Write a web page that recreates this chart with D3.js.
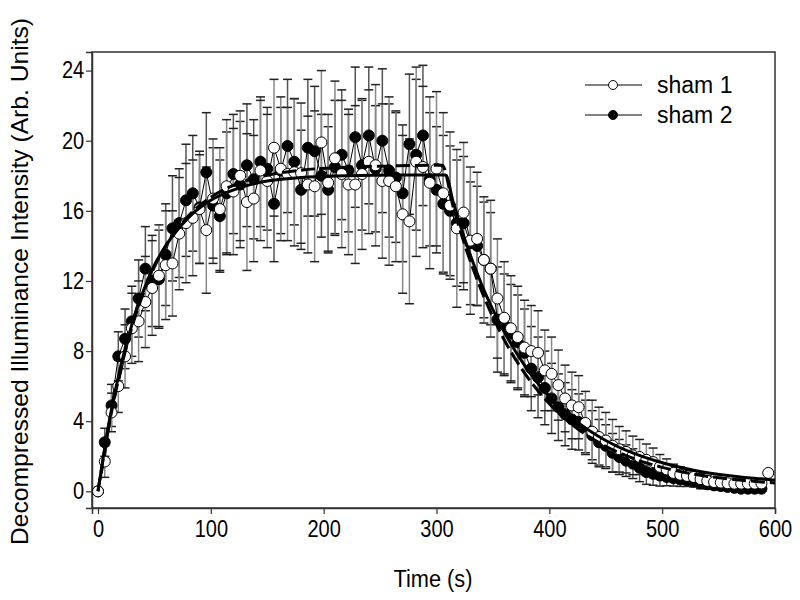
<!DOCTYPE html>
<html><head><meta charset="utf-8">
<script src="https://cdn.jsdelivr.net/npm/d3@7"></script>
<style>body{margin:0;background:#fff}svg{display:block}text{font-family:Arial,"Liberation Sans",sans-serif}</style>
</head><body><svg id="c" width="800" height="600"></svg>
<script>
const times1 = [0,6,12,18,24,30,36,42,48,54,60,66,72,78,84,90,96,102,108,114,120,126,132,138,144,150,156,162,168,174,180,186,192,198,204,210,216,222,228,234,240,246,252,258,264,270,276,282,288,294,300,306,312,318,324,330,336,342,348,354,360,366,372,378,384,390,396,402,408,414,420,426,432,438,444,450,456,462,468,474,480,486,492,498,504,510,516,522,528,534,540,546,552,558,564,570,576,582,588,594];
const sham1 = [0,1.7,4.5,6.0,7.7,9.3,9.7,10.8,11.6,12.3,12.9,13.0,14.7,15.3,15.6,16.1,14.9,16.7,16.1,17.4,17.1,18.0,16.5,16.7,18.3,17.7,19.6,18.4,18.1,18.2,18.15,17.5,17.4,19.9,17.6,19.0,18.1,17.5,17.5,18.1,18.8,18.6,17.7,17.7,17.4,15.8,15.4,18.8,18.5,17.6,18.4,17.0,16.3,15.0,15.9,14.3,14.4,13.2,12.7,11.0,9.9,9.3,8.8,8.2,8.0,7.9,6.9,6.7,6.06,5.3,4.9,4.8,3.9,3.4,3.1,2.9,2.6,2.4,2.25,2.05,1.96,1.8,1.67,1.4,1.25,1.05,0.95,0.88,0.82,0.7,0.6,0.53,0.5,0.46,0.44,0.44,0.44,0.44,0.45,1.05];
const sd1 = [0,0.9,1.1,1.5,1.8,2.0,2.3,2.6,2.7,2.9,3.1,3.0,3.2,3.4,3.3,3.1,3.6,3.4,3.5,3.8,3.6,3.7,3.9,3.6,4.0,3.8,3.9,4.1,3.8,4.2,4.0,3.9,4.3,4.1,3.9,4.4,4.2,4.0,4.5,4.3,4.1,4.6,4.4,4.8,4.3,4.5,4.7,5.4,4.6,4.9,4.4,4.6,4.2,4.5,4.0,4.2,3.8,3.6,3.9,3.4,3.2,3.0,2.9,2.7,2.6,2.4,2.3,2.1,2.0,1.9,1.9,1.8,1.8,1.8,1.7,1.6,1.5,1.3,1.2,1.1,1.0,0.9,0.8,0.7,0.6,0.5,0.45,0.4,0.35,0.3,0.3,0.25,0.25,0.2,0.2,0.15,0.15,0.15,0.15,0.1];
const times2 = [0,6,12,18,24,30,36,42,48,54,60,66,72,78,84,90,96,102,108,114,120,126,132,138,144,150,156,162,168,174,180,186,192,198,204,210,216,222,228,234,240,246,252,258,264,270,276,282,288,294,300,306,312,318,324,330,336,342,348,354,360,366,372,378,384,390,396,402,408,414,420,426,432,438,444,450,456,462,468,474,480,486,492,498,504,510,516,522,528,534,540,546,552,558,564,570,576,582,588];
const sham2 = [0,2.8,4.9,7.7,8.7,9.7,11.0,12.7,12.0,12.1,13.5,15.0,15.3,16.6,17.0,16.2,18.2,16.3,15.7,17.0,18.1,17.5,18.6,17.8,18.8,18.4,16.4,18.3,19.7,18.8,17.2,19.6,19.4,18.0,17.2,18.5,19.2,18.3,20.2,18.6,20.3,18.4,20.0,18.3,17.9,17.0,19.8,19.2,20.3,17.8,17.2,16.4,16.0,15.3,15.3,14.15,14.0,13.2,12.7,9.8,9.5,9.0,8.5,7.9,7.0,6.5,5.9,5.3,4.8,4.4,4.1,3.96,3.7,3.2,2.8,2.6,2.2,1.96,1.75,1.58,1.35,1.1,1.0,0.9,0.82,0.75,0.68,0.63,0.55,0.45,0.4,0.34,0.3,0.25,0.2,0.15,0.15,0.15,0.15];
const sd2 = [0,0.8,1.2,1.4,1.7,2.0,2.2,2.4,2.6,2.8,2.9,3.0,3.1,3.2,3.3,3.2,3.4,3.3,3.2,3.5,3.4,3.6,3.5,3.4,3.7,3.5,3.3,3.6,3.8,3.6,3.4,3.9,3.7,3.5,3.6,3.8,3.7,3.5,4.0,3.7,3.9,3.6,4.1,3.8,3.7,3.9,4.0,4.3,4.0,3.8,3.6,3.9,3.7,3.6,3.8,3.5,3.4,3.3,3.2,3.0,2.9,2.8,2.7,2.5,2.4,2.3,2.1,2.0,1.9,1.8,1.7,1.6,1.5,1.4,1.3,1.2,1.1,1.0,0.9,0.85,0.8,0.7,0.65,0.6,0.5,0.45,0.4,0.35,0.3,0.3,0.25,0.2,0.2,0.2,0.15,0.15,0.15,0.1,0.1];
const fitT1 = [0,10,20,30,40,50,60,80,100,125,150,180,220,260,308,315,325,340,360,380,400,425,450,475,500,530,560,600];
const fitY1 = [0,4.0,7.1,9.5,11.4,12.9,14.0,15.6,16.6,17.3,17.7,17.9,18.0,18.05,18.05,16.45,14.4,11.8,9.1,7.0,5.4,3.95,2.9,2.16,1.63,1.18,0.89,0.64];
const fitT2 = [0,10,20,30,40,50,60,80,100,125,150,180,220,260,305,315,325,340,360,380,400,425,450,475,500,530,560,600];
const fitY2 = [0,3.86,6.9,9.34,11.26,12.8,14.0,15.7,16.78,17.58,18.03,18.32,18.49,18.56,18.6,16.17,14.07,11.42,8.65,6.57,5.0,3.57,2.57,1.86,1.37,0.96,0.7,0.48];
const xTicks = [0,100,200,300,400,500,600];
const yTicks = [0,4,8,12,16,20,24];
const seriesNames = ["sham 1","sham 2"];
const xTitle = "Time (s)";
const yTitle = "Decompressed Illuminance Intensity (Arb. Units)";

const svg = d3.select("#c");
const x = d3.scaleLinear().domain([-5.3, 600]).range([92, 775]);
const y = d3.scaleLinear().domain([-0.95, 25.06]).range([508, 52]);
const axisCol = "#333";

svg.append("rect").attr("x",92).attr("y",52).attr("width",683).attr("height",456)
  .attr("fill","none").attr("stroke",axisCol).attr("stroke-width",1.5);

const xa = svg.append("g").attr("transform","translate(0,508)")
  .call(d3.axisBottom(x).tickValues(xTicks).tickSize(6).tickPadding(7).tickFormat(d3.format("d")));
const ya = svg.append("g").attr("transform","translate(92,0)")
  .call(d3.axisLeft(y).tickValues(yTicks).tickSize(6).tickPadding(3).tickFormat(d3.format("d")));
[xa,ya].forEach(a=>{
  a.select(".domain").attr("stroke",axisCol).attr("stroke-width",1.5);
  a.selectAll(".tick line").attr("stroke",axisCol).attr("stroke-width",1.2);
  a.selectAll(".tick text").attr("fill","#000").style("font-size","23px")
    .style("font-family","Arial, 'Liberation Sans', sans-serif").attr("transform","scale(0.87,1)");
});

svg.append("text").attr("x",433).attr("y",587).attr("text-anchor","middle")
  .style("font-size","23px").attr("textLength",79).attr("lengthAdjust","spacingAndGlyphs").text(xTitle);
svg.append("text").attr("transform","translate(28,281.5) rotate(-90)").attr("text-anchor","middle")
  .style("font-size","24px").attr("textLength",527).attr("lengthAdjust","spacingAndGlyphs").text(yTitle);

const data1 = times1.map((t,i)=>({t, v:sham1[i], s:sd1[i]}));
const data2 = times2.map((t,i)=>({t, v:sham2[i], s:sd2[i]}));

function errBars(data, stemCol){
  const g = svg.append("g");
  data.filter(d=>d.s>0).forEach(d=>{
    const cx = x(d.t);
    g.append("line").attr("x1",cx).attr("x2",cx).attr("y1",y(d.v+d.s)).attr("y2",y(d.v-d.s))
      .attr("stroke",stemCol).attr("stroke-width",1.5);
    [d.v+d.s, d.v-d.s].forEach(e=>{
      g.append("line").attr("x1",cx-4.5).attr("x2",cx+4.5).attr("y1",y(e)).attr("y2",y(e))
        .attr("stroke","#222").attr("stroke-width",1.5);
    });
  });
}
errBars(data2, "#555");
errBars(data1, "#888");

const line = d3.line().x(d=>x(d.t)).y(d=>y(d.v));
svg.append("path").datum(data2).attr("d",line).attr("fill","none").attr("stroke","#000").attr("stroke-width",1);
svg.append("g").selectAll("circle").data(data2).join("circle")
  .attr("cx",d=>x(d.t)).attr("cy",d=>y(d.v)).attr("r",5.5).attr("fill","#000").attr("stroke","#000");
svg.append("path").datum(data1).attr("d",line).attr("fill","none").attr("stroke","#000").attr("stroke-width",1);
svg.append("g").selectAll("circle").data(data1).join("circle")
  .attr("cx",d=>x(d.t)).attr("cy",d=>y(d.v)).attr("r",5.5).attr("fill","#fff").attr("stroke","#000").attr("stroke-width",1);

const fline = d3.line().x(d=>x(d[0])).y(d=>y(d[1])).curve(d3.curveMonotoneX);
svg.append("path").datum(fitT1.map((t,i)=>[t,fitY1[i]])).attr("d",fline)
  .attr("fill","none").attr("stroke","#000").attr("stroke-width",3);
svg.append("path").datum(fitT2.map((t,i)=>[t,fitY2[i]])).attr("d",fline)
  .attr("fill","none").attr("stroke","#000").attr("stroke-width",3).attr("stroke-dasharray","14,5");

const lg = svg.append("g");
[[85,"#fff"],[115,"#000"]].forEach(([ly,fc],i)=>{
  lg.append("line").attr("x1",585).attr("x2",642).attr("y1",ly).attr("y2",ly).attr("stroke","#000").attr("stroke-width",1);
  lg.append("circle").attr("cx",613).attr("cy",ly).attr("r",4.5).attr("fill",fc).attr("stroke","#000");
  lg.append("text").attr("x",657).attr("y",ly+8).style("font-size","23px").text(seriesNames[i]);
});
</script></body></html>
